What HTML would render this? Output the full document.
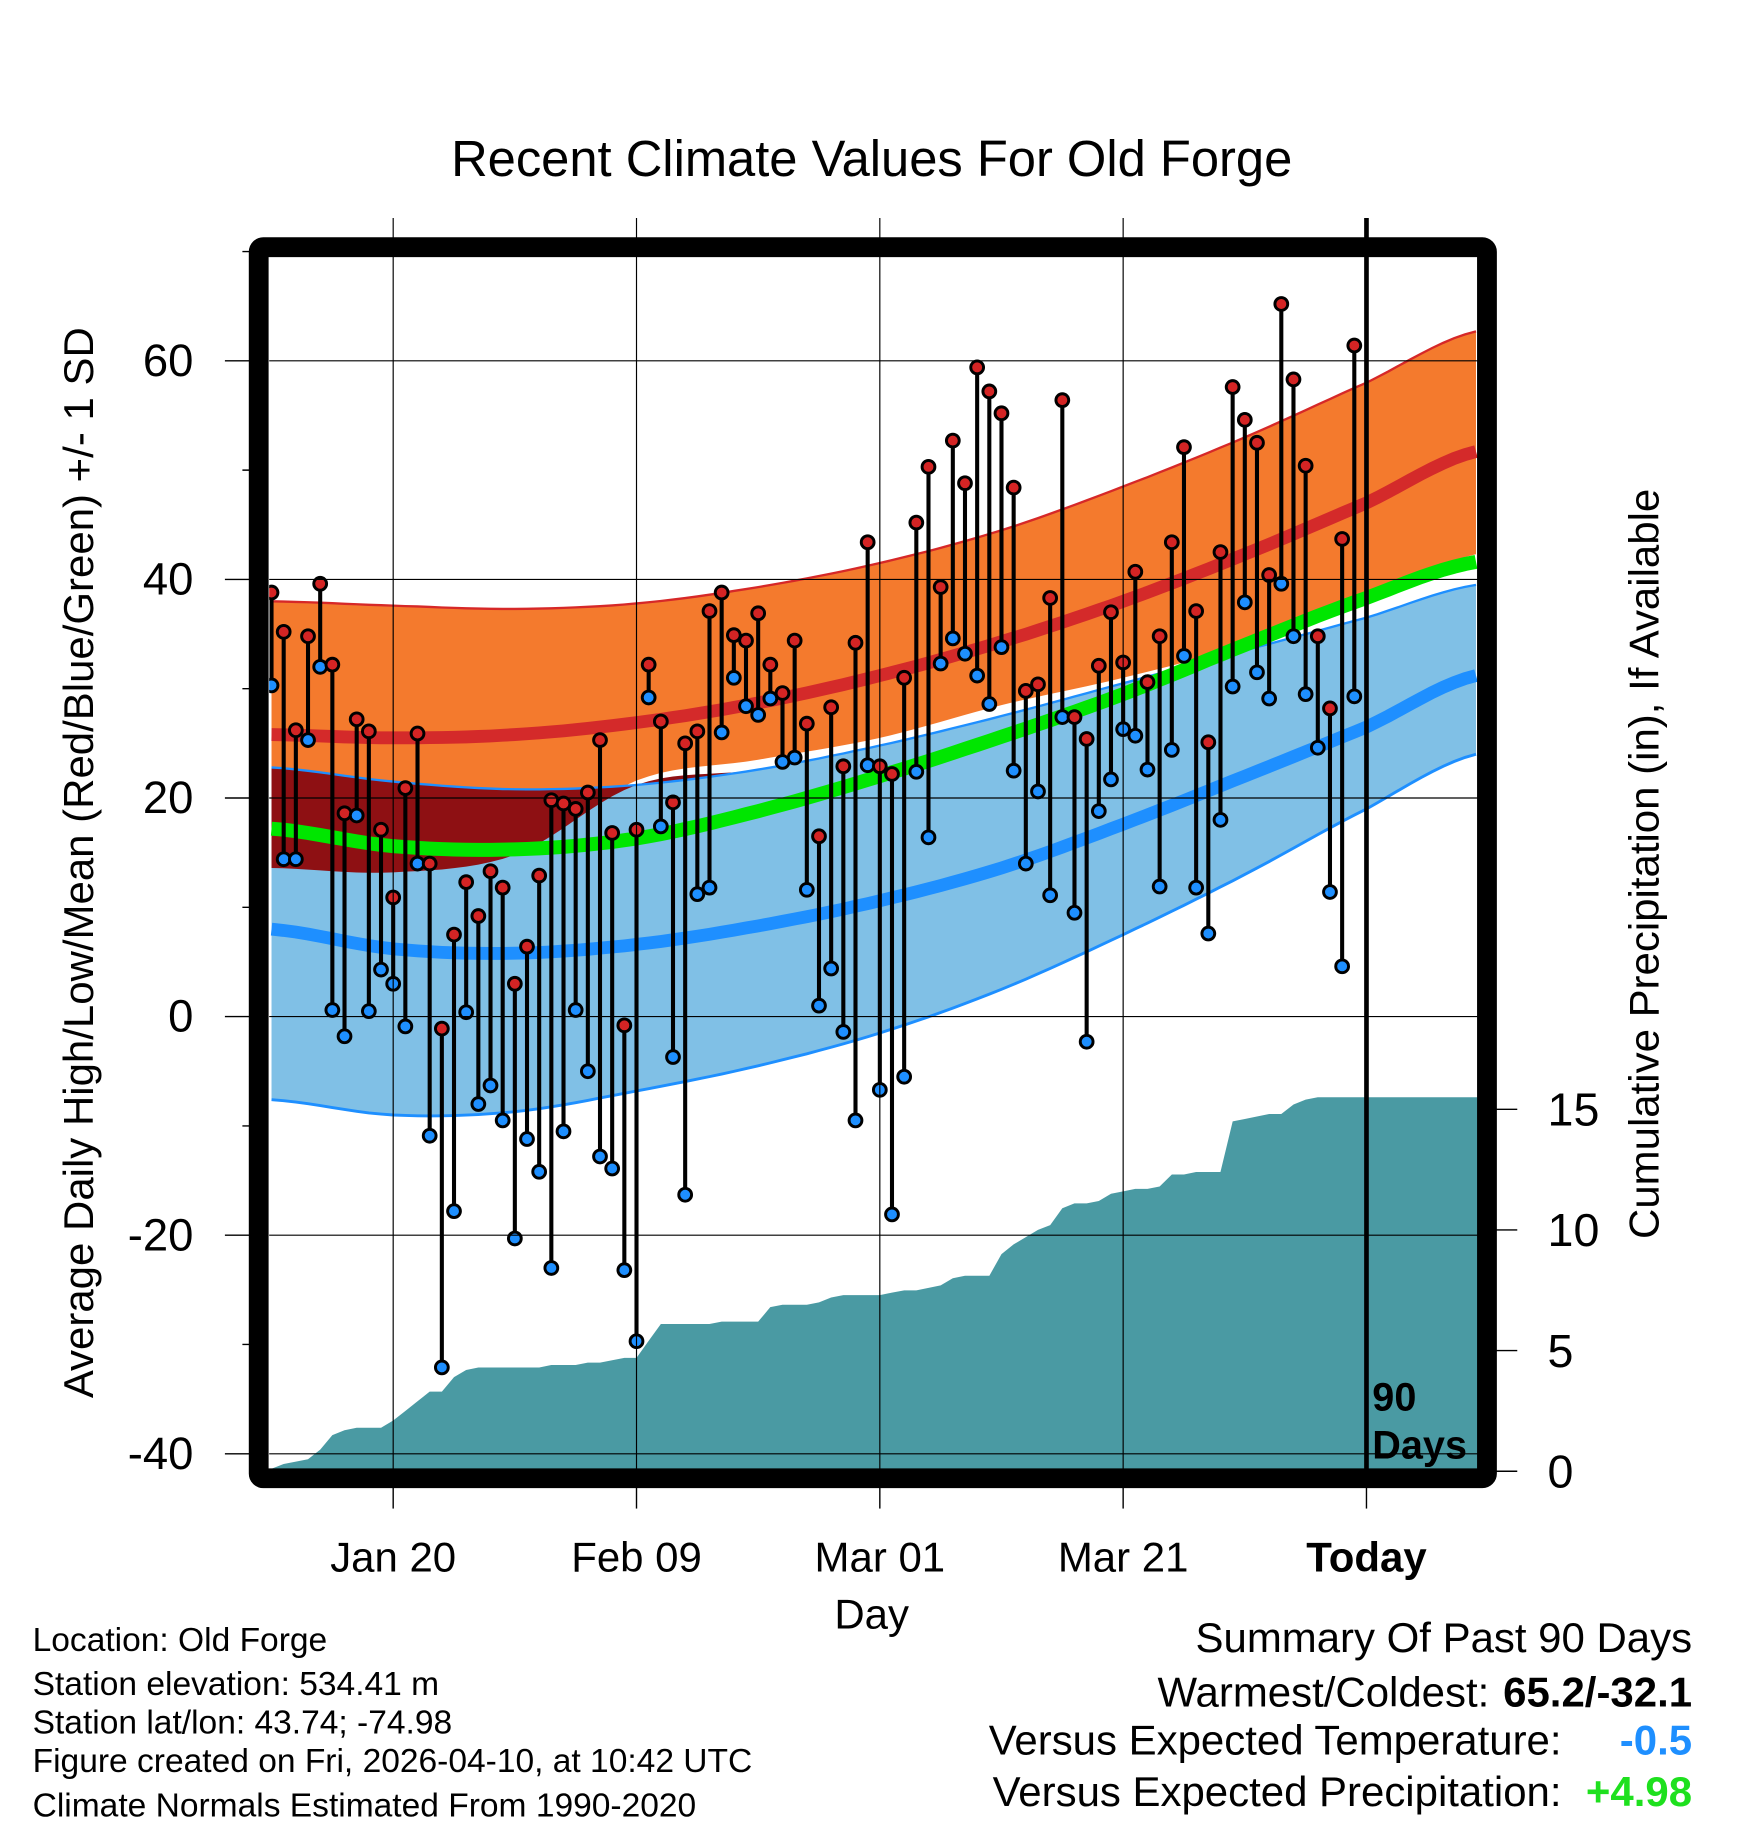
<!DOCTYPE html>
<html><head><meta charset="utf-8"><style>html,body{margin:0;padding:0;background:#fff}svg{display:block}text{font-family:"Liberation Sans",sans-serif}</style></head>
<body>
<svg id="chart" width="1748" height="1828" viewBox="0 0 1500 1568" preserveAspectRatio="none" xmlns="http://www.w3.org/2000/svg">
<text x="748" y="151" font-size="43.5" text-anchor="middle">Recent Climate Values For Old Forge</text>
<g id="plot"></g>
<text transform="translate(80,740) rotate(-90)" font-size="36" text-anchor="middle">Average Daily High/Low/Mean (Red/Blue/Green) +/- 1 SD</text>
<text transform="translate(1423,741) rotate(-90)" font-size="36" text-anchor="middle">Cumulative Precipitation (in), If Available</text>
<text x="748" y="1397" font-size="36" text-anchor="middle">Day</text>
<g font-size="28.8">
<text x="28" y="1416">Location: Old Forge</text>
<text x="28" y="1454">Station elevation: 534.41 m</text>
<text x="28" y="1487">Station lat/lon: 43.74; -74.98</text>
<text x="28" y="1520">Figure created on Fri, 2026-04-10, at 10:42 UTC</text>
<text x="28" y="1558">Climate Normals Estimated From 1990-2020</text>
</g>
<g font-size="36">
<text x="1452" y="1417" text-anchor="end">Summary Of Past 90 Days</text>
<text x="1278" y="1464" text-anchor="end">Warmest/Coldest:</text>
<text x="1452" y="1464" text-anchor="end" font-weight="bold">65.2/-32.1</text>
<text x="1340" y="1505" text-anchor="end">Versus Expected Temperature:</text>
<text x="1452" y="1505" text-anchor="end" font-weight="bold" fill="#1e8fff">-0.5</text>
<text x="1340" y="1549" text-anchor="end">Versus Expected Precipitation:</text>
<text x="1452" y="1549" text-anchor="end" font-weight="bold" fill="#1ee01e">+4.98</text>
</g>
</svg>
<script>
const highs=[38.8,35.2,26.2,34.8,39.6,32.2,18.6,27.2,26.1,17.1,10.9,20.9,25.9,14.0,-1.1,7.5,12.3,9.2,13.3,11.8,3.0,6.4,12.9,19.8,19.5,19.0,20.5,25.3,16.8,-0.8,17.1,32.2,27.0,19.6,25.0,26.1,37.1,38.8,34.9,34.4,36.9,32.2,29.6,34.4,26.8,16.5,28.3,22.9,34.2,43.4,22.9,22.2,31.0,45.2,50.3,39.3,52.7,48.8,59.4,57.2,55.2,48.4,29.8,30.4,38.3,56.4,27.4,25.4,32.1,37.0,32.4,40.7,30.6,34.8,43.4,52.1,37.1,25.1,42.5,57.6,54.6,52.5,40.4,65.2,58.3,50.4,34.8,28.2,43.7,61.4];
const lows=[30.3,14.4,14.4,25.3,32.0,0.6,-1.8,18.4,0.5,4.3,3.0,-0.9,14.0,-10.9,-32.1,-17.8,0.4,-8.0,-6.3,-9.5,-20.3,-11.2,-14.2,-23.0,-10.5,0.6,-5.0,-12.8,-13.9,-23.2,-29.7,29.2,17.4,-3.7,-16.3,11.2,11.8,26.0,31.0,28.4,27.6,29.1,23.3,23.7,11.6,1.0,4.4,-1.4,-9.5,23.0,-6.7,-18.1,-5.5,22.4,16.4,32.3,34.6,33.2,31.2,28.6,33.8,22.5,14.0,20.6,11.1,27.4,9.5,-2.3,18.8,21.7,26.3,25.7,22.6,11.9,24.4,33.0,11.8,7.6,18.0,30.2,37.9,31.5,29.1,39.6,34.8,29.5,24.6,11.4,4.6,29.3];
const precip=[0.1,0.3,0.4,0.5,0.9,1.5,1.7,1.8,1.8,1.8,2.1,2.5,2.9,3.3,3.3,3.9,4.2,4.3,4.3,4.3,4.3,4.3,4.3,4.4,4.4,4.4,4.5,4.5,4.6,4.7,4.7,5.4,6.1,6.1,6.1,6.1,6.1,6.2,6.2,6.2,6.2,6.8,6.9,6.9,6.9,7.0,7.2,7.3,7.3,7.3,7.3,7.4,7.5,7.5,7.6,7.7,8.0,8.1,8.1,8.1,9.0,9.4,9.7,10.0,10.2,10.9,11.1,11.1,11.2,11.5,11.6,11.7,11.7,11.8,12.3,12.3,12.4,12.4,12.4,14.5,14.6,14.7,14.8,14.8,15.2,15.4,15.5,15.5,15.5,15.5];
const normDays=[0,10,20,30,40,50,60,70,80,90,99];
const highPlus=[38,37.6,37.3,37.8,39.3,41.5,44.5,48.5,53,58,62.7];
const highMean=[25.8,25.5,25.8,26.9,28.7,31.2,34.3,38,42.3,47,51.7];
const highMinus=[13.6,13.2,14.8,21.6,23.5,25.5,28.5,31,34,38,42.3];
const meanTemp=[17.2,15.6,15.3,16.3,18.8,22,25.6,29.5,34,38.3,41.6];
const lowPlus=[22.8,21.5,20.8,21.2,22.6,24.8,27.5,30.5,33.5,36.5,39.5];
const lowMean=[8,6.2,5.8,6.6,8.3,10.6,13.6,17.6,22,26.5,31.2];
const lowMinus=[-7.6,-9,-8.7,-6.8,-4.5,-1.5,2.5,7.5,13,19,24];
const yTicks=[60,40,20,0,-20,-40];
const pTicks=[0,5,10,15];
const xTickDays=[10,30,50,70,90];
const xTickLabels=["Jan 20","Feb 09","Mar 01","Mar 21","Today"];

const NS="http://www.w3.org/2000/svg";
const g=document.getElementById('plot');
const X=i=>233+i*10.44;
const Y=v=>872-v*9.375;
const P=p=>1262-p*20.7;
const L=231,R=1268,T=220,B=1260;
function mk(tag,attrs,parent){const e=document.createElementNS(NS,tag);for(const k in attrs)e.setAttribute(k,attrs[k]);(parent||g).appendChild(e);return e;}
function smooth(xs,ys){let d='';for(let k=0;k<xs.length;k++){d+=(k?'L':'M')+xs[k].toFixed(1)+','+ys[k].toFixed(1);}return d;}
function dense(arr){const xs=[],ys=[];const n=normDays.length;for(let k=0;k<n-1;k++){const p0=arr[Math.max(k-1,0)],p1=arr[k],p2=arr[k+1],p3=arr[Math.min(k+2,n-1)];for(let s=0;s<10;s++){const t=s/10;const v=0.5*((2*p1)+(-p0+p2)*t+(2*p0-5*p1+4*p2-p3)*t*t+(-p0+3*p1-3*p2+p3)*t*t*t);const d=normDays[k]+(normDays[k+1]-normDays[k])*t;xs.push(X(d));ys.push(Y(v));}}xs.push(X(normDays[n-1]));ys.push(Y(arr[n-1]));return [xs,ys];}
function band(up,lo){const [x1,y1]=dense(up),[x2,y2]=dense(lo);let d=smooth(x1,y1);for(let k=x2.length-1;k>=0;k--)d+='L'+x2[k].toFixed(1)+','+y2[k].toFixed(1);return d+'Z';}

const clip=mk('clipPath',{id:'pc'});mk('rect',{x:L,y:T,width:R-L,height:B-T},clip);
const c=mk('g',{'clip-path':'url(#pc)'});

for(const v of yTicks){const e=mk('line',{x1:L,x2:R,y1:Y(v),y2:Y(v),stroke:'#000','stroke-width':1});

}
for(let k=0;k<xTickDays.length-1;k++){const e=mk('line',{x1:X(xTickDays[k]),x2:X(xTickDays[k]),y1:187,y2:B,stroke:'#000','stroke-width':1});

}

let e;
e=mk('path',{d:band(highPlus,highMinus),fill:'#f47a2d'},c);


e=mk('path',{d:band(lowPlus,lowMinus),fill:'#80c0e6'},c);


const ov=highMinus.map((h,k)=>Math.min(h,lowPlus[k]));
e=mk('path',{d:band(lowPlus,ov),fill:'#8e1013'},c);


function line(arr,col,w){const [xs,ys]=dense(arr);return mk('path',{d:smooth(xs,ys),fill:'none',stroke:col,'stroke-width':w},c);}
e=line(highPlus,'#d62828',2);
e=line(lowPlus,'#1e8fff',2);
e=line(lowMinus,'#1e8fff',2.5);
e=line(highMean,'#d42a2a',11);
e=line(lowMean,'#1e8fff',11);
e=line(meanTemp,'#00e600',12);

let pd='M'+X(0)+','+B;for(let i=0;i<precip.length;i++)pd+='L'+X(i).toFixed(1)+','+P(precip[i]).toFixed(1);
pd+='L'+(X(precip.length-1)+8).toFixed(1)+','+P(precip[precip.length-1]).toFixed(1)+'L'+R+','+P(precip[precip.length-1]).toFixed(1)+'L'+R+','+B+'Z';
e=mk('path',{d:pd,fill:'#4a9aa3'},c);



for(let i=0;i<highs.length;i++){
 e=mk('line',{x1:X(i),x2:X(i),y1:Y(highs[i]),y2:Y(lows[i]),stroke:'#000','stroke-width':3.5},c);
 
 
}
for(let i=0;i<highs.length;i++){
 e=mk('circle',{cx:X(i),cy:Y(highs[i]),r:5.5,fill:'#d42424',stroke:'#000','stroke-width':2.5},c);
 
 
 e=mk('circle',{cx:X(i),cy:Y(lows[i]),r:5.5,fill:'#1e8fff',stroke:'#000','stroke-width':2.5},c);
 
 
}

e=mk('line',{x1:X(90),x2:X(90),y1:187,y2:B,stroke:'#000','stroke-width':4});


e=mk('text',{x:X(90)+5,y:1210,'font-size':34,'font-weight':'bold'});e.textContent='90';


e=mk('text',{x:X(90)+5,y:1251,'font-size':34,'font-weight':'bold'});e.textContent='Days';



e=mk('rect',{x:222,y:212,width:1054,height:1056,fill:'none',stroke:'#000','stroke-width':17,rx:4});



for(let v=-40;v<=70;v+=10){const major=v%20===0;e=mk('line',{x1:major?193:208,x2:222,y1:Y(v),y2:Y(v),stroke:'#000','stroke-width':1.2});

}
for(const v of yTicks){e=mk('text',{x:166,y:Y(v)+13,'font-size':39,'text-anchor':'end'});e.textContent=String(v);

}
for(const p of pTicks){e=mk('line',{x1:1276,x2:1302,y1:P(p),y2:P(p),stroke:'#000','stroke-width':1.2});


e=mk('text',{x:1328,y:P(p)+14,'font-size':40});e.textContent=String(p);

}
for(let k=0;k<xTickDays.length;k++){const x=X(xTickDays[k]);e=mk('line',{x1:x,x2:x,y1:1276,y2:1294,stroke:'#000','stroke-width':1.2});


e=mk('text',{x:x,y:1348,'font-size':36,'text-anchor':'middle','font-weight':k===4?'bold':'normal'});e.textContent=xTickLabels[k];

}
</script>
</body></html>
